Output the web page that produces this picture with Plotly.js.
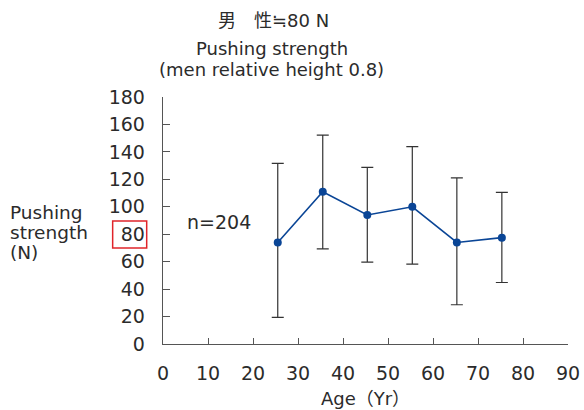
<!DOCTYPE html>
<html>
<head>
<meta charset="utf-8">
<script src="https://cdn.plot.ly/plotly-3.0.1.min.js"></script>
<style>html,body{margin:0;padding:0;background:#fff;}#chart{width:584px;height:410px;}</style>
</head>
<body>
<div id="chart"></div>
<script>
// Data
const ages = [25.5, 35.5, 45.4, 55.4, 65.3, 75.3];
const meanStrength = [74, 111, 94, 100, 74, 77.5];
const upperBound = [131.6, 152.2, 128.7, 143.9, 121.1, 110.5];
const lowerBound = [19.4, 69.3, 59.6, 58.2, 28.6, 44.8];
const xTicks = [0, 10, 20, 30, 40, 50, 60, 70, 80, 90];
const yTicks = [0, 20, 40, 60, 80, 100, 120, 140, 160, 180];
const sampleLabel = 'n=204';

const errPlus = meanStrength.map((m, i) => upperBound[i] - m);
const errMinus = meanStrength.map((m, i) => m - lowerBound[i]);

const FONT = 'DejaVu Sans, Noto Sans CJK JP, sans-serif';
const TXT = '#2b2b2b';

const trace = {
  x: ages, y: meanStrength, type: 'scatter', mode: 'lines+markers',
  line: {color: '#0a4596', width: 1.6},
  marker: {color: '#0a4596', size: 8},
  error_y: {type: 'data', symmetric: false, array: errPlus, arrayminus: errMinus,
            color: '#333', thickness: 1.2, width: 6},
  hoverinfo: 'skip', showlegend: false
};

const layout = {
  width: 584, height: 410,
  margin: {l: 163, r: 16, t: 97, b: 66},
  paper_bgcolor: '#fff', plot_bgcolor: '#fff',
  font: {family: FONT, size: 18, color: TXT},
  showlegend: false,
  xaxis: {
    range: [0, 90], tickvals: xTicks, ticktext: xTicks.map(String),
    showline: true, linecolor: '#555', linewidth: 1.3, showgrid: false, zeroline: false,
    ticks: 'inside', ticklen: 6, tickcolor: '#555', tickwidth: 1,
    ticklabelstandoff: 12,
    tickfont: {family: FONT, size: 19, color: TXT},
    title: {text: 'Age（Yr）', font: {family: FONT, size: 18, color: TXT}, standoff: 9}
  },
  yaxis: {
    range: [0, 180], tickvals: yTicks, ticktext: yTicks.map(String),
    showline: true, linecolor: '#555', linewidth: 1.3, showgrid: false, zeroline: false,
    ticks: 'inside', ticklen: 7, tickcolor: '#555', tickwidth: 1,
    ticklabelstandoff: 13,
    tickfont: {family: FONT, size: 19, color: TXT}
  },
  annotations: [
    {text: '男　性≒80 N', xref: 'paper', yref: 'paper', x: 0.272, y: (344.3-20)/247.6,
     showarrow: false, xanchor: 'center', yanchor: 'middle', font: {family: FONT, size: 18, color: TXT}},
    {text: 'Pushing strength', xref: 'paper', yref: 'paper', x: 0.269, y: (344.3-48)/247.6,
     showarrow: false, xanchor: 'center', yanchor: 'middle', font: {family: FONT, size: 18, color: TXT}},
    {text: '(men relative height 0.8)', xref: 'paper', yref: 'paper', x: 0.269, y: (344.3-69)/247.6,
     showarrow: false, xanchor: 'center', yanchor: 'middle', font: {family: FONT, size: 18, color: TXT}},
    {text: 'Pushing', xref: 'paper', yref: 'paper', x: (8-163.3)/404.7, y: (344.3-212)/247.6,
     showarrow: false, xanchor: 'left', yanchor: 'middle', font: {family: FONT, size: 18.5, color: TXT}},
    {text: 'strength', xref: 'paper', yref: 'paper', x: (8-163.3)/404.7, y: (344.3-233)/247.6,
     showarrow: false, xanchor: 'left', yanchor: 'middle', font: {family: FONT, size: 18.5, color: TXT}},
    {text: '(N)', xref: 'paper', yref: 'paper', x: (8-163.3)/404.7, y: (344.3-253)/247.6,
     showarrow: false, xanchor: 'left', yanchor: 'middle', font: {family: FONT, size: 18.5, color: TXT}},
    {text: sampleLabel, xref: 'x', yref: 'y', x: 4.9, y: 89,
     showarrow: false, xanchor: 'left', yanchor: 'middle', font: {family: FONT, size: 19, color: TXT}}
  ],
  shapes: [
    {type: 'rect', xref: 'paper', yref: 'paper',
     x0: (113-163.3)/404.7, x1: (147-163.3)/404.7, y0: (344.3-248)/247.6, y1: (344.3-221)/247.6,
     line: {color: '#e0242a', width: 1.5}, fillcolor: 'rgba(0,0,0,0)'}
  ]
};

Plotly.newPlot('chart', [trace], layout, {displayModeBar: false, staticPlot: true});
</script>
</body>
</html>
